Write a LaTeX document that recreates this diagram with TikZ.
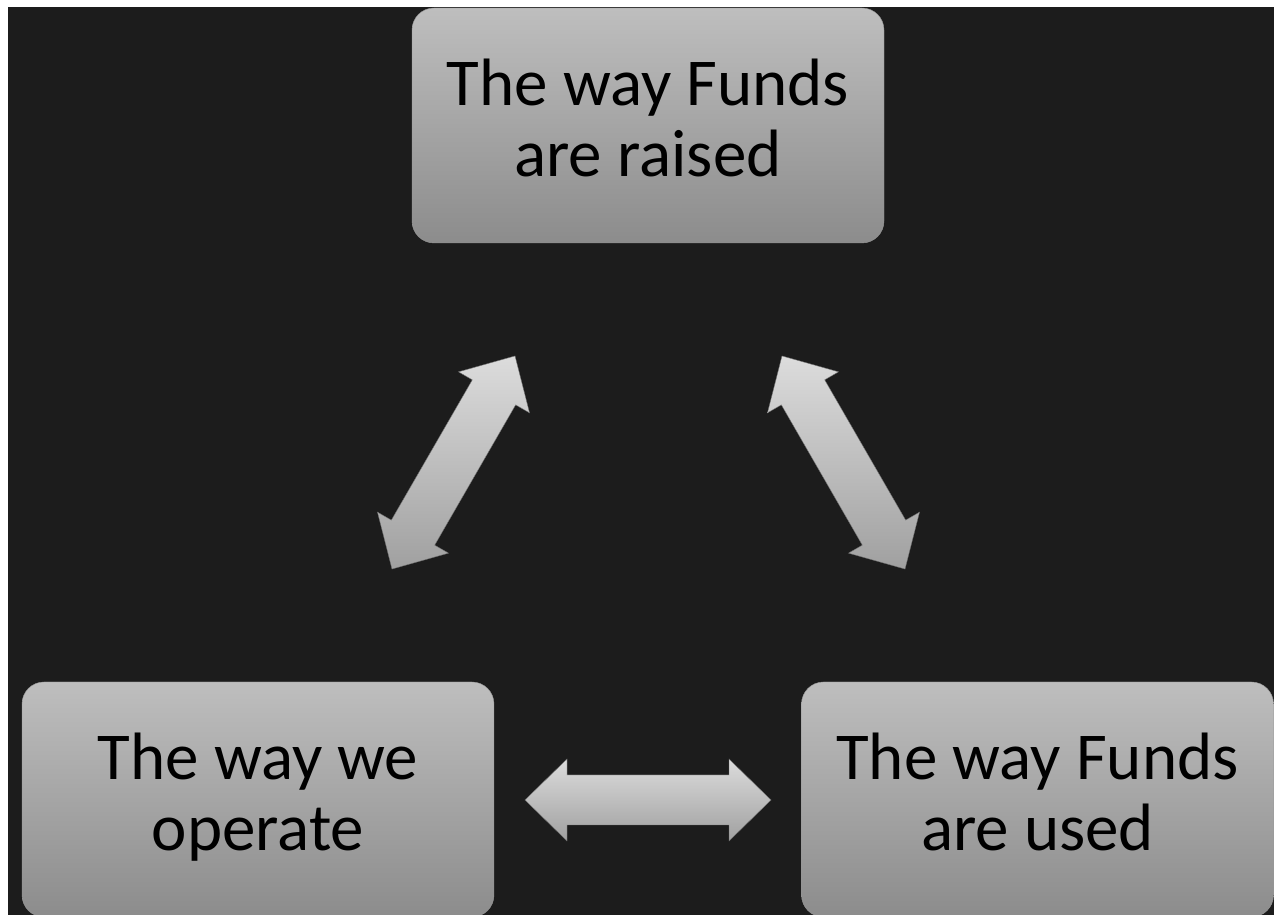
\documentclass[tikz,border=0pt]{standalone}
\usepackage{fontspec}
\setmainfont{Carlito}
\usetikzlibrary{calc}

\definecolor{slate}{HTML}{1C1C1C}
\definecolor{boxtop}{HTML}{BEBEBE}
\definecolor{boxbot}{HTML}{8C8C8C}
\definecolor{arrtop}{HTML}{DCDCDC}
\definecolor{arrbot}{HTML}{A0A0A0}
\definecolor{arredge}{HTML}{707070}

% invisible strut that fixes the first baseline and last depth of box texts
\newcommand\boxstrut{\rule[-15pt]{0pt}{64pt}}

% double-headed block arrow: #1 = centre, #2 = direction angle
\newcommand\blockarrow[2]{%
  \path[blockarr,shift={(#1)}]
    (#2:123)
    -- ($(#2:81)+(#2+90:41)$) -- ($(#2:81)+(#2+90:25)$)
    -- ($(#2+180:81)+(#2+90:25)$) -- ($(#2+180:81)+(#2+90:41)$)
    -- (#2+180:123)
    -- ($(#2+180:81)+(#2-90:41)$) -- ($(#2+180:81)+(#2-90:25)$)
    -- ($(#2:81)+(#2-90:25)$) -- ($(#2:81)+(#2-90:41)$)
    -- cycle;}

\tikzset{
  box/.style={rounded corners=22pt, minimum width=472pt, minimum height=235pt,
    inner sep=0pt, top color=boxtop, bottom color=boxbot,
    draw=boxbot!90!white, line width=0.4pt,
    align=center, text=black, font=\fontsize{67}{71}\selectfont,
    execute at begin node=\boxstrut, execute at end node=\boxstrut},
  blockarr/.style={top color=arrtop, bottom color=arrbot,
    draw=arredge, line width=0.4pt}
}

\begin{document}
\begin{tikzpicture}[x=1pt,y=1pt]
  \useasboundingbox (0,0) rectangle (1274,915);
  \fill[white] (0,0) rectangle (1274,915);
  \fill[slate] (8,0) rectangle (1274,908);

  % the three themes
  \node[box] (raised)  at (648,789.5)  {The way Funds\\are raised};
  \node[box] (operate) at (258,115.5)  {The way we\\operate};
  \node[box] (used)    at (1037.5,115.5) {The way Funds\\are used};

  % two-way links between them
  \blockarrow{453.5,452.5}{60}
  \blockarrow{843.5,452.5}{120}
  \blockarrow{648,115}{0}
\end{tikzpicture}
\end{document}
